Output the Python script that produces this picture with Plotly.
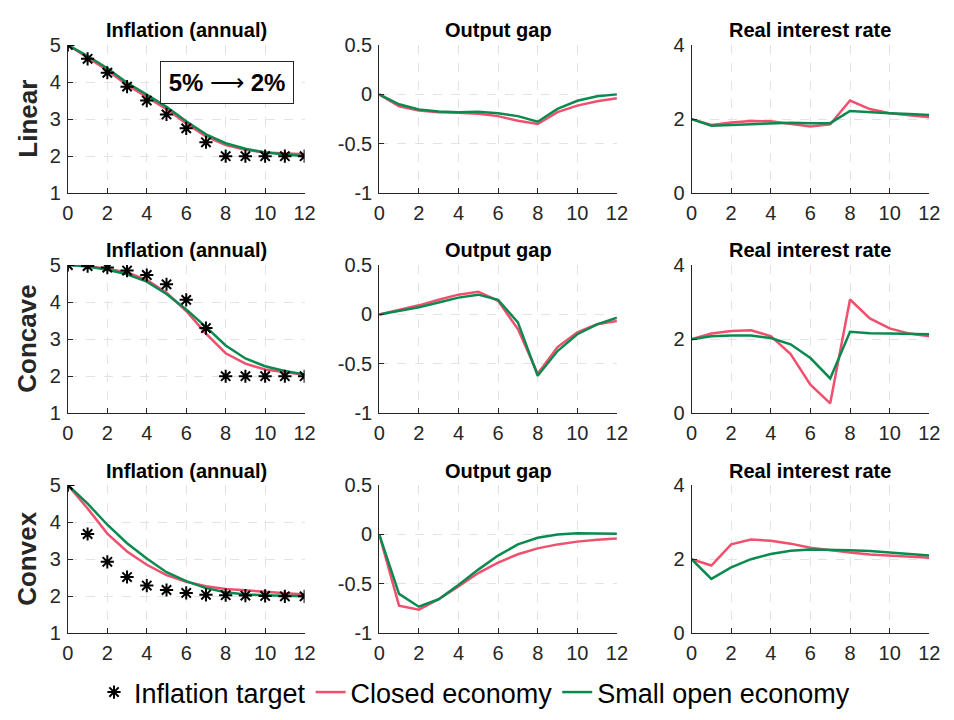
import plotly.graph_objects as go

t = list(range(13))

rows = ["Linear", "Concave", "Convex"]
titles = ["Inflation (annual)", "Output gap", "Real interest rate"]

# Inflation target
target_linear = [5, 4.625, 4.25, 3.875, 3.5, 3.125, 2.75, 2.375, 2, 2, 2, 2, 2]
target_concave = [5, 4.97, 4.93, 4.85, 4.73, 4.48, 4.06, 3.3, 2, 2, 2, 2, 2]
target_convex = [5, 3.68, 2.93, 2.52, 2.29, 2.17, 2.09, 2.04, 2.03, 2.02, 2.01, 2.0, 2.0]

# Inflation
infl_closed_linear = [5, 4.67, 4.32, 3.92, 3.6, 3.27, 2.88, 2.53, 2.3, 2.17, 2.1, 2.07, 2.05]
infl_open_linear = [5, 4.7, 4.37, 3.98, 3.66, 3.33, 2.94, 2.59, 2.35, 2.2, 2.1, 2.04, 2.0]
infl_closed_concave = [5, 4.97, 4.9, 4.8, 4.6, 4.25, 3.76, 3.15, 2.62, 2.34, 2.18, 2.1, 2.04]
infl_open_concave = [5, 4.96, 4.87, 4.75, 4.55, 4.22, 3.8, 3.33, 2.83, 2.48, 2.27, 2.14, 2.05]
infl_closed_convex = [5, 4.37, 3.69, 3.21, 2.85, 2.57, 2.39, 2.27, 2.2, 2.16, 2.11, 2.07, 2.05]
infl_open_convex = [5, 4.5, 3.93, 3.43, 3.02, 2.65, 2.41, 2.22, 2.11, 2.05, 2.03, 2.01, 2.0]

# Output gap
gap_closed_linear = [0, -0.12, -0.163, -0.18, -0.186, -0.196, -0.22, -0.267, -0.30, -0.18, -0.114, -0.07, -0.04]
gap_open_linear = [0, -0.10, -0.153, -0.173, -0.18, -0.176, -0.19, -0.22, -0.277, -0.147, -0.065, -0.02, 0.0]
gap_closed_concave = [0, 0.043, 0.092, 0.148, 0.2, 0.23, 0.138, -0.148, -0.6, -0.33, -0.18, -0.1, -0.066]
gap_open_concave = [0, 0.033, 0.072, 0.12, 0.17, 0.2, 0.148, -0.08, -0.62, -0.37, -0.2, -0.1, -0.033]
gap_closed_convex = [0, -0.72, -0.76, -0.655, -0.525, -0.39, -0.285, -0.2, -0.14, -0.1, -0.072, -0.052, -0.04]
gap_open_convex = [0, -0.6, -0.73, -0.655, -0.51, -0.355, -0.213, -0.1, -0.033, 0.0, 0.013, 0.013, 0.007]

# Real interest rate
rate_closed_linear = [2.0, 1.84, 1.91, 1.95, 1.94, 1.88, 1.8, 1.86, 2.5, 2.27, 2.16, 2.1, 2.05]
rate_open_linear = [2.0, 1.82, 1.84, 1.86, 1.89, 1.9, 1.89, 1.89, 2.22, 2.18, 2.16, 2.14, 2.11]
rate_closed_concave = [2.0, 2.15, 2.22, 2.24, 2.08, 1.6, 0.77, 0.27, 3.07, 2.56, 2.29, 2.15, 2.08]
rate_open_concave = [2.0, 2.08, 2.1, 2.1, 2.03, 1.86, 1.49, 0.94, 2.2, 2.16, 2.15, 2.14, 2.13]
rate_closed_convex = [2.0, 1.83, 2.4, 2.53, 2.5, 2.42, 2.31, 2.24, 2.18, 2.13, 2.1, 2.07, 2.04]
rate_open_convex = [2.0, 1.47, 1.78, 2.0, 2.14, 2.23, 2.26, 2.26, 2.24, 2.22, 2.18, 2.14, 2.1]

x_ticks = [0, 2, 4, 6, 8, 10, 12]
infl_ticks = [1, 2, 3, 4, 5]
gap_ticks = [-1, -0.5, 0, 0.5]
gap_ticklabels = ["-1", "-0.5", "0", "0.5"]
rate_ticks = [0, 2, 4]

RED = "#F0506E"
GREEN = "#0B8A50"
FONT = "Liberation Sans, Arial, sans-serif"
W, H = 954, 720

col_px = [(63, 304), (380, 622), (698, 940)]
row_px = [(35, 188), (262, 415), (489, 642)]

panels = [
    [(infl_closed_linear, infl_open_linear, target_linear),
     (gap_closed_linear, gap_open_linear, None),
     (rate_closed_linear, rate_open_linear, None)],
    [(infl_closed_concave, infl_open_concave, target_concave),
     (gap_closed_concave, gap_open_concave, None),
     (rate_closed_concave, rate_open_concave, None)],
    [(infl_closed_convex, infl_open_convex, target_convex),
     (gap_closed_convex, gap_open_convex, None),
     (rate_closed_convex, rate_open_convex, None)],
]
yranges = [[1, 5], [-1, 0.5], [0, 4]]
ytickvals = [infl_ticks, gap_ticks, rate_ticks]
yticktext = [[str(v) for v in infl_ticks], gap_ticklabels, [str(v) for v in rate_ticks]]

fig = go.Figure()
layout = {}
annotations = []
for r in range(3):
    for c in range(3):
        idx = r * 3 + c + 1
        xa = "x" if idx == 1 else f"x{idx}"
        ya = "y" if idx == 1 else f"y{idx}"
        closed, opened, target = panels[r][c]
        fig.add_trace(go.Scatter(x=t, y=closed, mode="lines", xaxis=xa, yaxis=ya,
                                 line=dict(color=RED, width=2.5), name="Closed economy",
                                 legendgroup="closed", legendrank=2))
        fig.add_trace(go.Scatter(x=t, y=opened, mode="lines", xaxis=xa, yaxis=ya,
                                 line=dict(color=GREEN, width=2.5), name="Small open economy",
                                 legendgroup="open", legendrank=3))
        if target is not None:
            fig.add_trace(go.Scatter(x=t, y=target, mode="markers", xaxis=xa, yaxis=ya,
                                     marker=dict(symbol="asterisk-open", size=11, color="black",
                                                 line=dict(color="black", width=2)),
                                     name="Inflation target", legendgroup="target",
                                     legendrank=1))
        x0, x1 = col_px[c]
        y0, y1 = row_px[r]
        axcommon = dict(showline=True, linecolor="#262626", linewidth=1,
                        ticks="inside", ticklen=5, tickcolor="#262626",
                        showgrid=True, gridcolor="#E3E3E3", griddash="dash", gridwidth=1,
                        zeroline=False, tickfont=dict(family=FONT, size=20, color="#262626"),
                        fixedrange=True, mirror=False)
        layout["xaxis" if idx == 1 else f"xaxis{idx}"] = dict(
            domain=[x0 / W, x1 / W], range=[0, 12], tickvals=x_ticks,
            anchor=ya, ticklabelstandoff=2, **axcommon)
        layout["yaxis" if idx == 1 else f"yaxis{idx}"] = dict(
            domain=[1 - y1 / H, 1 - y0 / H], range=yranges[c], tickvals=ytickvals[c],
            ticktext=yticktext[c], anchor=xa, ticklabelstandoff=2, **axcommon)
        annotations.append(dict(text=f"<b>{titles[c]}</b>", xref="paper", yref="paper",
                                x=(x0 + x1) / 2 / W, y=1 - (y0 - 15) / H,
                                xanchor="center", yanchor="middle", showarrow=False,
                                font=dict(family=FONT, size=20, color="black")))
    annotations.append(dict(text=f"<b>{rows[r]}</b>", xref="paper", yref="paper",
                            x=22 / W, y=1 - (row_px[r][0] + row_px[r][1]) / 2 / H,
                            xanchor="center", yanchor="middle", textangle=-90, showarrow=False,
                            font=dict(family=FONT, size=26, color="#262626")))

# only the first panel's traces show in the legend
seen = set()
for tr in fig.data:
    if tr.legendgroup in seen:
        tr.showlegend = False
    else:
        tr.showlegend = True
        seen.add(tr.legendgroup)

annotations.append(dict(
    text="<b>5%</b> \u27f6 <b>2%</b>",
    xref="paper", yref="paper",
    x=225 / W, y=1 - 73.5 / H, xanchor="center", yanchor="middle",
    showarrow=False, width=128, height=37, bgcolor="white",
    bordercolor="#262626", borderwidth=1, borderpad=2,
    font=dict(family=FONT, size=24, color="black")))

fig.update_layout(**layout)
fig.update_layout(
    width=W, height=H, margin=dict(l=0, r=0, t=0, b=0),
    paper_bgcolor="white", plot_bgcolor="white",
    annotations=annotations,
    showlegend=True,
    legend=dict(orientation="h", x=0.5, xanchor="center", y=1 - 703 / H, yanchor="middle",
                font=dict(family=FONT, size=27, color="black"), itemwidth=30,
                bgcolor="rgba(0,0,0,0)", tracegroupgap=0, traceorder="normal"),
)
fig.write_html("out.html")
